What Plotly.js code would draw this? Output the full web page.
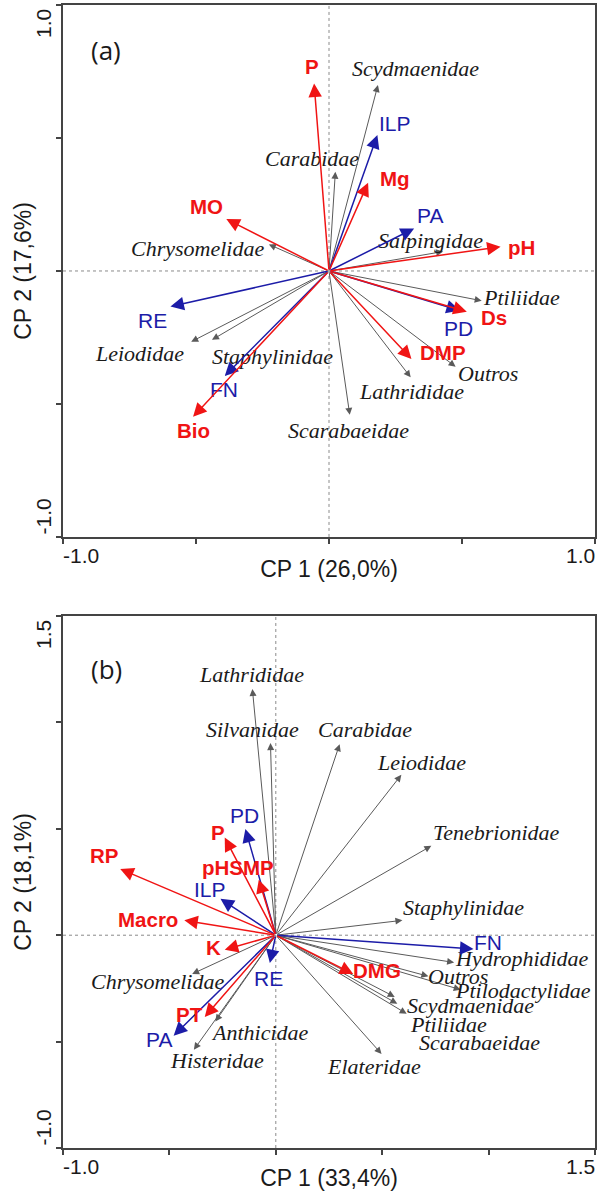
<!DOCTYPE html>
<html><head><meta charset="utf-8">
<script src="https://cdn.plot.ly/plotly-3.0.1.min.js"></script>
<style>html,body{margin:0;padding:0;background:#fff}</style>
</head><body><div id="chart" style="width:603px;height:1194px"></div>
<script>
// ---------- Panel (a) data ----------
const aRedNames = ['P','MO','Mg','pH','Ds','DMP','Bio'];
const aRedX = [-0.056,-0.386,0.147,0.645,0.518,0.310,-0.511];
const aRedY = [0.705,0.195,0.332,0.091,-0.153,-0.331,-0.548];
const aBlueNames = ['ILP','PA','RE','PD','FN'];
const aBlueX = [0.182,0.320,-0.596,0.492,-0.392];
const aBlueY = [0.511,0.160,-0.134,-0.149,-0.395];
const aFamNames = ['Scydmaenidae','Carabidae','Chrysomelidae','Salpingidae','Ptiliidae','Leiodidae','Staphylinidae','Outros','Lathrididae','Scarabaeidae'];
const aFamX = [0.184,0.024,-0.226,0.429,0.574,-0.518,-0.440,0.476,0.307,0.078];
const aFamY = [0.699,0.373,0.100,0.073,-0.112,-0.266,-0.259,-0.360,-0.400,-0.541];

// ---------- Panel (b) data ----------
const bRedNames = ['RP','P','pHSMP','Macro','K','PT','DMG'];
const bRedX = [-0.731,-0.240,-0.080,-0.430,-0.240,-0.334,0.364];
const bRedY = [0.311,0.459,0.261,0.070,-0.068,-0.384,-0.182];
const bBlueNames = ['PD','ILP','RE','PA','FN'];
const bBlueX = [-0.143,-0.260,-0.028,-0.480,0.929];
const bBlueY = [0.499,0.171,-0.131,-0.472,-0.065];
const bFamNames = ['Lathrididae','Silvanidae','Carabidae','Leiodidae','Tenebrionidae','Staphylinidae','Hydrophididae','Outros','Ptilodactylidae','Scydmaenidae','Ptiliidae','Scarabaeidae','Elateridae','Chrysomelidae','Anthicidae','Histeridae'];
const bFamX = [-0.110,-0.025,0.300,0.590,0.731,0.595,0.838,0.717,0.869,0.559,0.571,0.615,0.497,-0.393,-0.284,-0.385];
const bFamY = [1.157,0.903,0.898,0.754,0.420,0.070,-0.128,-0.193,-0.256,-0.290,-0.322,-0.369,-0.558,-0.182,-0.405,-0.538];

// axis titles / tick labels
const aXTitle = 'CP 1 (26,0%)', aYTitle = 'CP 2 (17,6%)';
const bXTitle = 'CP 1 (33,4%)', bYTitle = 'CP 2 (18,1%)';
const aRange = [-1, 1], bRange = [-1, 1.5];
const aTickText = ['-1.0', '1.0'], bTickText = ['-1.0', '1.5'];

// ---------- label placement (layout, not data) ----------
const aRedLab = [[-0.063,0.768],[-0.461,0.242],[0.247,0.348],[0.724,0.089],[0.621,-0.175],[0.427,-0.307],[-0.511,-0.600]];
const aBlueLab = [[0.249,0.555],[0.378,0.208],[-0.662,-0.188],[0.488,-0.216],[-0.395,-0.447]];
const aFamLab = [[0.324,0.762],[-0.064,0.424],[-0.494,0.085],[0.380,0.114],[0.722,-0.099],[-0.714,-0.310],[-0.214,-0.322],[0.596,-0.385],[0.310,-0.454],[0.075,-0.601]];
const bRedLab = [[-0.809,0.373],[-0.270,0.483],[-0.176,0.316],[-0.600,0.076],[-0.292,-0.057],[-0.405,-0.373],[0.477,-0.165]];
const bBlueLab = [[-0.146,0.561],[-0.307,0.217],[-0.035,-0.204],[-0.551,-0.491],[0.995,-0.032]];
const bFamLab = [[-0.113,1.224],[-0.111,0.965],[0.418,0.968],[0.687,0.812],[1.038,0.485],[0.882,0.132],[1.156,-0.110],[0.857,-0.193],[1.163,-0.261],[0.914,-0.330],[0.811,-0.420],[0.958,-0.506],[0.461,-0.616],[-0.558,-0.217],[-0.073,-0.457],[-0.278,-0.590]];

const RED = '#f01414', BLUE = '#1c1ca8', GRAY = '#5a5a5a', TXT = '#1a1a1a';
const SANS = 'Liberation Sans, Arial, sans-serif', SERIF = 'Liberation Serif, Times New Roman, serif';

const styles = {
  red:  {color: RED,  lw: 1.5, size: 1.8, font: {family: SANS, size: 20.5, color: RED}, fmt: s => '<b>' + s + '</b>'},
  blue: {color: BLUE, lw: 1.5, size: 1.8, font: {family: SANS, size: 21, color: BLUE}, fmt: s => s},
  gray: {color: GRAY, lw: 1.0, size: 1.4, font: {family: SERIF, size: 22, color: TXT}, fmt: s => '<i>' + s + '</i>'}
};

const data = [];
const annotations = [];

function addSet(xr, yr, names, xs, ys, labs, st) {
  const s = styles[st];
  data.push({type: 'scatter', mode: 'markers', x: xs, y: ys, text: names, xaxis: xr, yaxis: yr,
    marker: {size: 4, color: s.color, opacity: 0}, hoverinfo: 'text', showlegend: false});
  names.forEach((n, i) => {
    annotations.push({xref: xr, yref: yr, axref: xr, ayref: yr, x: xs[i], y: ys[i], ax: 0, ay: 0,
      text: '', showarrow: true, arrowhead: 2, arrowsize: s.size, arrowwidth: s.lw, arrowcolor: s.color, standoff: 0, startstandoff: 0});
  });
  names.forEach((n, i) => {
    annotations.push({xref: xr, yref: yr, x: labs[i][0], y: labs[i][1], text: s.fmt(n), showarrow: false,
      xanchor: 'center', yanchor: 'middle', font: s.font});
  });
}

addSet('x', 'y', aFamNames, aFamX, aFamY, aFamLab, 'gray');
addSet('x', 'y', aBlueNames, aBlueX, aBlueY, aBlueLab, 'blue');
addSet('x', 'y', aRedNames, aRedX, aRedY, aRedLab, 'red');
addSet('x2', 'y2', bFamNames, bFamX, bFamY, bFamLab, 'gray');
addSet('x2', 'y2', bBlueNames, bBlueX, bBlueY, bBlueLab, 'blue');
addSet('x2', 'y2', bRedNames, bRedX, bRedY, bRedLab, 'red');

// tick labels (placed inside the span like the original)
const tickFont = {family: SANS, size: 21, color: TXT};
function tickLabels(xr, yr, rng, txt) {
  annotations.push({xref: xr, yref: yr, x: rng[0], y: rng[0], text: txt[0], showarrow: false, xanchor: 'left', yanchor: 'top', yshift: -5, xshift: -2, font: tickFont});
  annotations.push({xref: xr, yref: yr, x: rng[1], y: rng[0], text: txt[1], showarrow: false, xanchor: 'right', yanchor: 'top', yshift: -5, xshift: 2, font: tickFont});
  annotations.push({xref: xr, yref: yr, x: rng[0], y: rng[0], text: txt[0], showarrow: false, xanchor: 'right', yanchor: 'bottom', xshift: -6, textangle: -90, font: tickFont});
  annotations.push({xref: xr, yref: yr, x: rng[0], y: rng[1], text: txt[1], showarrow: false, xanchor: 'right', yanchor: 'top', xshift: -6, yshift: -2, textangle: -90, font: tickFont});
}
tickLabels('x', 'y', aRange, aTickText);
tickLabels('x2', 'y2', bRange, bTickText);

// panel letters
const letterFont = {family: 'Open Sans, sans-serif', size: 26, color: TXT};
annotations.push({xref: 'x domain', yref: 'y domain', x: 0.08, y: 0.915, text: '(a)', showarrow: false, xanchor: 'center', yanchor: 'middle', font: letterFont});
annotations.push({xref: 'x2 domain', yref: 'y2 domain', x: 0.082, y: 0.90, text: '(b)', showarrow: false, xanchor: 'center', yanchor: 'middle', font: letterFont});

function axis(rng, title, extra) {
  return Object.assign({
    range: rng, tickvals: [-1, -0.5, 0, 0.5, 1, 1.5].filter(v => v >= rng[0] && v <= rng[1]),
    showticklabels: false, ticks: 'outside', ticklen: 5, tickwidth: 2, tickcolor: '#444',
    showline: true, mirror: true, linecolor: '#444', linewidth: 2,
    showgrid: false, zeroline: false, fixedrange: true,
    title: {text: title, font: {family: SANS, size: 23, color: TXT}}
  }, extra);
}

const dotted = {color: '#8a8a8a', width: 1, dash: 'dot'};
const shapes = [
  {type: 'line', xref: 'x', yref: 'y', x0: 0, x1: 0, y0: aRange[0], y1: aRange[1], line: dotted, layer: 'below'},
  {type: 'line', xref: 'x', yref: 'y', x0: aRange[0], x1: aRange[1], y0: 0, y1: 0, line: dotted, layer: 'below'},
  {type: 'line', xref: 'x2', yref: 'y2', x0: 0, x1: 0, y0: bRange[0], y1: bRange[1], line: dotted, layer: 'below'},
  {type: 'line', xref: 'x2', yref: 'y2', x0: bRange[0], x1: bRange[1], y0: 0, y1: 0, line: dotted, layer: 'below'}
];

const xa = axis(aRange, aXTitle, {domain: [0, 1], anchor: 'y'});
xa.title.standoff = 18;
const ya = axis(aRange, aYTitle, {domain: [0.5346, 1], anchor: 'x'});
ya.title.standoff = 18;
const xb = axis(bRange, bXTitle, {domain: [0, 1], anchor: 'y2'});
xb.title.standoff = 16;
const yb = axis(bRange, bYTitle, {domain: [0, 0.4654], anchor: 'x2'});
yb.title.standoff = 18;

const layout = {
  width: 603, height: 1194, margin: {l: 63, r: 8, t: 5, b: 46},
  paper_bgcolor: '#fff', plot_bgcolor: '#fff', showlegend: false,
  xaxis: xa, yaxis: ya, xaxis2: xb, yaxis2: yb,
  shapes: shapes, annotations: annotations
};

Plotly.newPlot('chart', data, layout, {displayModeBar: false, staticPlot: true});
</script></body></html>
